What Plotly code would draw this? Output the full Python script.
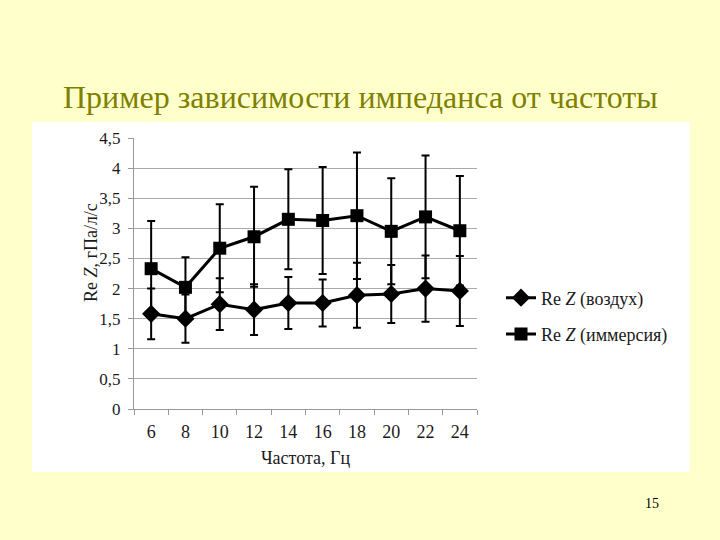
import plotly.graph_objects as go

freq = ["6", "8", "10", "12", "14", "16", "18", "20", "22", "24"]
air = [1.58, 1.50, 1.74, 1.65, 1.76, 1.76, 1.89, 1.91, 2.00, 1.96]
air_err = [0.42, 0.40, 0.43, 0.42, 0.43, 0.39, 0.54, 0.48, 0.55, 0.58]
imm = [2.33, 2.02, 2.67, 2.86, 3.15, 3.13, 3.21, 2.95, 3.19, 2.96]
imm_err = [0.79, 0.50, 0.73, 0.83, 0.83, 0.89, 1.05, 0.88, 1.02, 0.91]
yticks = [0, 0.5, 1, 1.5, 2, 2.5, 3, 3.5, 4, 4.5]
yticktext = ["0", "0,5", "1", "1,5", "2", "2,5", "3", "3,5", "4", "4,5"]

SERIF = "Liberation Serif, Times New Roman, serif"
TXT = "#1a1a1a"

fig = go.Figure()
fig.add_trace(go.Scatter(
    x=freq, y=air, mode="lines+markers", name="Re <i>Z</i> (воздух)",
    line=dict(color="black", width=3),
    marker=dict(symbol="diamond", size=14, color="black"),
    error_y=dict(type="data", array=air_err, visible=True, color="black", thickness=2, width=4),
    legendgroup="a",
))
fig.add_trace(go.Scatter(
    x=freq, y=imm, mode="lines+markers", name="Re <i>Z</i> (иммерсия)",
    line=dict(color="black", width=3),
    marker=dict(symbol="square", size=13, color="black"),
    error_y=dict(type="data", array=imm_err, visible=True, color="black", thickness=2, width=4),
    legendgroup="b",
))

L, R, T, B = 134, 477, 138, 409
W, H = R - L, B - T

def px(xp):
    return (xp - L) / W

def py(yp):
    return (B - yp) / H

fig.add_shape(type="rect", xref="paper", yref="paper",
              x0=px(32), x1=px(690), y0=py(472), y1=py(122),
              fillcolor="white", line=dict(width=0), layer="below")

fig.add_annotation(text="Пример зависимости импеданса от частоты",
                   xref="paper", yref="paper", x=px(360), y=py(97),
                   xanchor="center", yanchor="middle", showarrow=False,
                   font=dict(family=SERIF, size=32, color="#7F7F00"))
fig.add_annotation(text="15", xref="paper", yref="paper", x=px(652), y=py(503),
                   xanchor="center", yanchor="middle", showarrow=False,
                   font=dict(family=SERIF, size=14, color="black"))
fig.add_annotation(text="Re <i>Z</i>, гПа/л/с", xref="paper", yref="paper",
                   x=px(91), y=py(253), textangle=-90,
                   xanchor="center", yanchor="middle", showarrow=False,
                   font=dict(family=SERIF, size=18, color=TXT))

fig.update_layout(
    width=720, height=540,
    margin=dict(l=L, r=720 - R, t=T, b=540 - B, pad=0),
    paper_bgcolor="#FFFFCC", plot_bgcolor="white",
    font=dict(family=SERIF, size=18, color=TXT),
    showlegend=True,
    legend=dict(x=px(501), y=py(316), xanchor="left", yanchor="middle",
                bgcolor="rgba(0,0,0,0)", font=dict(family=SERIF, size=18, color=TXT),
                traceorder="grouped", tracegroupgap=10, itemwidth=30),
)
fig.update_xaxes(
    type="category", range=[-0.5, 9.5], tickson="boundaries",
    ticks="outside", ticklen=5, tickcolor="#999999", ticklabelstandoff=6,
    showline=True, linecolor="#999999", linewidth=1, showgrid=False,
    title=dict(text="Частота, Гц", font=dict(family=SERIF, size=18), standoff=10),
    tickfont=dict(family=SERIF, size=18),
)
fig.update_yaxes(
    range=[0, 4.5], tickvals=yticks, ticktext=yticktext,
    ticks="outside", ticklen=5, tickcolor="#999999", ticklabelstandoff=4,
    showline=True, linecolor="#999999", linewidth=1,
    showgrid=True, gridcolor="#AAAAAA", gridwidth=1, zeroline=False,
    tickfont=dict(family=SERIF, size=17),
)

fig.write_html("out.html", config={"displayModeBar": False},
               post_script="document.body.style.margin='0';")
